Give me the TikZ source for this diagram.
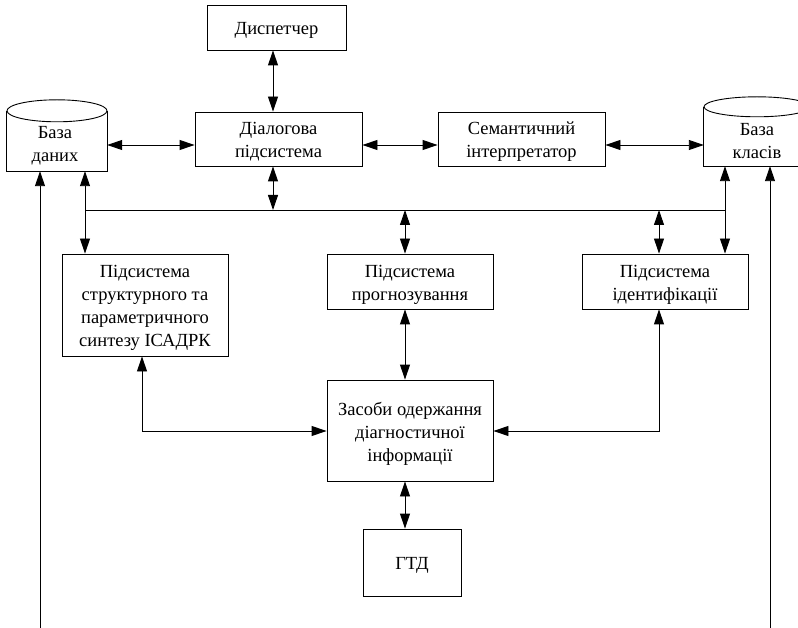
\documentclass[tikz,border=0pt]{standalone}
\usepackage{fontspec}
\setmainfont{Liberation Serif}
\usetikzlibrary{arrows.meta}
\begin{document}
\begin{tikzpicture}[x=1pt,y=-1pt,
  every node/.style={font=\fontsize{18.5}{23}\selectfont},
  box/.style={draw, line width=0.9pt, inner sep=0pt},
  txt/.style={align=center, inner sep=0pt},
  tip/.tip={Triangle[length=15pt,width=10pt]},
  link/.style={line width=0.9pt, tip-tip},
  uplink/.style={line width=0.9pt, -tip},
  plain/.style={line width=0.9pt},
  wire/.style={line width=0.9pt}]
\useasboundingbox (0,0) rectangle (798,628);
\clip (0,0) rectangle (798,628);
% boxes
\node[box, minimum width=139pt, minimum height=45pt] (disp) at (276.5,27.5) {};
\node[txt] (dispT) at ([yshift=-3pt]disp.center) {Диспетчер};
\node[box, minimum width=167pt, minimum height=54pt] (dial) at (278.5,139) {};
\node[txt] (dialT) at ([yshift=-3pt]dial.center) {Діалогова\\підсистема};
\node[box, minimum width=167pt, minimum height=54pt] (sem) at (521.5,139) {};
\node[txt] (semT) at ([yshift=-3pt]sem.center) {Семантичний\\інтерпретатор};
\node[box, minimum width=166pt, minimum height=102pt] (str) at (145,305) {};
\node[txt] (strT) at ([yshift=-3pt]str.center) {Підсистема\\структурного та\\параметричного\\синтезу ІСАДРК};
\node[box, minimum width=166pt, minimum height=55pt] (prog) at (410,281.5) {};
\node[txt] (progT) at ([yshift=-3pt]prog.center) {Підсистема\\прогнозування};
\node[box, minimum width=166pt, minimum height=55pt] (ident) at (665,281.5) {};
\node[txt] (identT) at ([yshift=-3pt]ident.center) {Підсистема\\ідентифікації};
\node[box, minimum width=166pt, minimum height=101pt] (zas) at (410,430.5) {};
\node[txt] (zasT) at ([yshift=-3pt]zas.center) {Засоби одержання\\діагностичної\\інформації};
\node[box, minimum width=98pt, minimum height=67pt] (gtd) at (412,562.5) {};
\node[txt] (gtdT) at ([yshift=-3pt]gtd.center) {ГТД};
% cylinders
\node[inner sep=0pt, minimum width=100pt, minimum height=60pt] (bd) at (57,141) {};
\node[txt] (bdT) at ([xshift=-2pt,yshift=-4.5pt]bd.center) {База\\даних};
\draw[plain] (bd.north west) -- (bd.south west) -- (bd.south east) -- (bd.north east);
\draw[plain] (bd.north) ellipse [x radius=50, y radius=11];
\node[inner sep=0pt, minimum width=106pt, minimum height=59pt] (bk) at (757,136.5) {};
\node[txt] (bkT) at ([yshift=-4.5pt]bk.center) {База\\класів};
\draw[plain] (bk.north west) -- (bk.south west) -- (bk.south east) -- (bk.north east);
\draw[plain] (bk.north) ellipse [x radius=53, y radius=10];
% helper coordinates
\coordinate (r145) at (0,145);
\coordinate (cD) at (273,210);
\coordinate (busL) at (85,210);
\coordinate (busR) at (725,210);
\coordinate (cP) at (405,210);
\coordinate (cI) at (659,210);
\coordinate (jL) at (142,431);
\coordinate (jR) at (659,431);
\coordinate (botL) at (40,628);
\coordinate (botR) at (770,628);
% connectors
\draw[link] (disp.south -| cD) -- (dial.north -| cD);
\draw[link] (bd.east |- r145) -- (dial.west |- r145);
\draw[link] (dial.east |- r145) -- (sem.west |- r145);
\draw[link] (sem.east |- r145) -- (bk.west |- r145);
\draw[link] (dial.south -| cD) -- (cD);
\draw[wire] (busL) -- (busR);
\draw[link] (bd.south -| busL) -- (str.north -| busL);
\draw[link] (bk.south -| busR) -- (ident.north -| busR);
\draw[link] (cP) -- (prog.north -| cP);
\draw[link] (cI) -- (ident.north -| cI);
\draw[link] (prog.south -| cP) -- (zas.north -| cP);
\draw[link] (str.south -| jL) -- (jL) -- (zas.west |- jL);
\draw[link] (ident.south -| jR) -- (jR) -- (zas.east |- jR);
\draw[link] (zas.south -| cP) -- (gtd.north -| cP);
\draw[uplink] (botL) -- (bd.south -| botL);
\draw[uplink] (botR) -- (bk.south -| botR);
\end{tikzpicture}
\end{document}
